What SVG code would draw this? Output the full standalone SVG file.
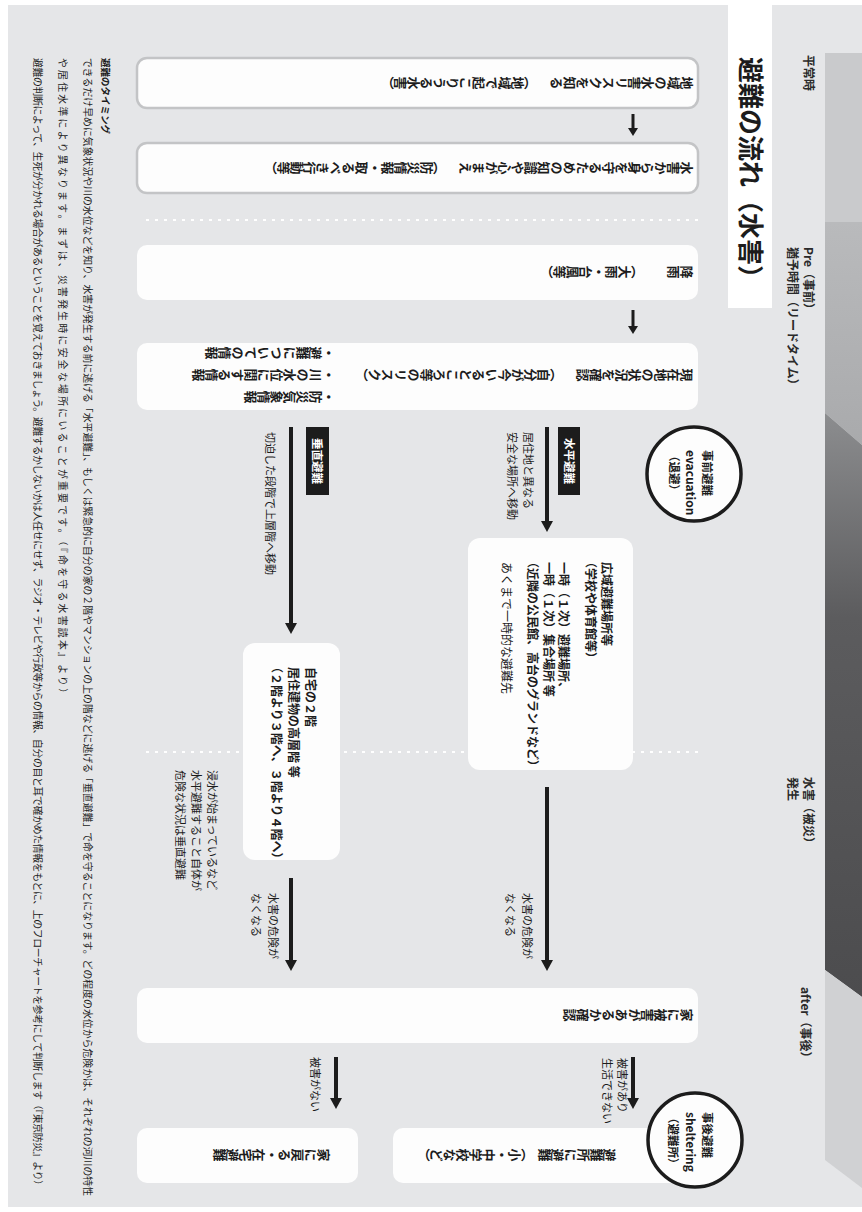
<svg xmlns="http://www.w3.org/2000/svg" width="862" height="1212" viewBox="0 0 862 1212">
<defs>
<style>
text{font-family:"Noto Sans CJK JP","Noto Sans",sans-serif;fill:#1c1c1c}
.v{writing-mode:vertical-rl;font-size:13px;font-weight:700}
.b{font-weight:700}
.box{fill:#fdfdfd}
.box2{fill:#fdfdfd;stroke:#c3c4c6;stroke-width:2.5}
.lbl{font-size:11px}
.bt{font-size:12px}
.ph{font-size:12px;font-weight:700;fill:#2a2a2a}
.fn{font-size:9.8px}
.arr{stroke:#1c1c1c;stroke-width:4;fill:none;marker-end:url(#ah)}
.sarr{stroke:#1c1c1c;stroke-width:3;fill:none;marker-end:url(#ahs)}
.dot{stroke:#ffffff;stroke-width:2;stroke-dasharray:3 6;fill:none}
.circ{fill:#fdfdfd;stroke:#1c1c1c;stroke-width:3.5}
</style>
<marker id="ah" viewBox="0 0 11 12" refX="2" refY="6" markerWidth="11" markerHeight="12" markerUnits="userSpaceOnUse" orient="auto"><path d="M0,0 L11,6 L0,12 Z" fill="#1c1c1c"/></marker>
<marker id="ahs" viewBox="0 0 8 10" refX="1" refY="5" markerWidth="8" markerHeight="10" markerUnits="userSpaceOnUse" orient="auto"><path d="M0,0 L8,5 L0,10 Z" fill="#1c1c1c"/></marker>
<linearGradient id="dark" gradientUnits="userSpaceOnUse" x1="413" y1="0" x2="997" y2="0"><stop offset="0" stop-color="#8c8d8f"/><stop offset="0.35" stop-color="#5c5c5e"/><stop offset="1" stop-color="#4c4c4e"/></linearGradient>
<linearGradient id="pre" gradientUnits="userSpaceOnUse" x1="222" y1="0" x2="445" y2="0"><stop offset="0" stop-color="#b9babc"/><stop offset="1" stop-color="#a9aaac"/></linearGradient>
</defs>
<rect x="0" y="0" width="862" height="1212" fill="#ffffff"/>
<rect x="8" y="5" width="854" height="1202" fill="#e5e6e8"/>
<g transform="translate(862 0) rotate(90)">
  <g id="timeline">
    <polygon points="53,0 222,0 222,37 53,37" fill="#c9cacc"/>
    <polygon points="222,0 445,0 413,37 222,37" fill="url(#pre)"/>
    <polygon points="445,0 997,0 970,37 413,37" fill="url(#dark)"/>
    <polygon points="997,0 1188,0 1160,37 970,37" fill="#d0d1d3"/>
  </g>
  <g id="title">
    <rect x="0" y="90" width="308" height="44" fill="#ffffff"/>
    <text x="57" y="121" font-size="26" class="b">避難の流れ（水害）</text>
  </g>
  <g id="phases">
    <text class="ph" x="55" y="58.5">平常時</text>
    <text class="ph" x="247" y="58.5">Pre（事前）</text>
    <text class="ph" x="247" y="74.5">猶予時間（リードタイム）</text>
    <text class="ph" x="777" y="58.5">水害（被災）</text>
    <text class="ph" x="777" y="74.5">発生</text>
    <text class="ph" x="987" y="61.5">after（事後）</text>
  </g>
  <g id="separators">
    <line class="dot" x1="220" y1="164" x2="220" y2="722"/>
    <line class="dot" x1="752" y1="164" x2="752" y2="722"/>
  </g>
  <g id="connectors">
    <line class="sarr" x1="114" y1="229" x2="129" y2="229"/>
    <line class="sarr" x1="310" y1="229" x2="327" y2="229"/>
    <line class="arr" x1="427" y1="315" x2="523" y2="315"/>
    <line class="arr" x1="427" y1="571" x2="625" y2="571"/>
    <line class="arr" x1="787" y1="315" x2="962" y2="315"/>
    <line class="arr" x1="878" y1="571" x2="962" y2="571"/>
    <line class="arr" x1="1057" y1="229" x2="1100" y2="229"/>
    <line class="arr" x1="1057" y1="526" x2="1100" y2="526"/>
    <rect x="427" y="282" width="68" height="22" fill="#1c1c1c"/>
    <text x="461" y="297.5" font-size="11.5" class="b" text-anchor="middle" style="fill:#fff">水平避難</text>
    <rect x="427" y="533" width="68" height="23" fill="#1c1c1c"/>
    <text x="461" y="549" font-size="11.5" class="b" text-anchor="middle" style="fill:#fff">垂直避難</text>
    <text class="lbl" x="432" y="338">居住地と異なる</text>
    <text class="lbl" x="432" y="354">安全な場所へ移動</text>
    <text class="lbl" x="432" y="596">切迫した段階で上層階へ移動</text>
    <text class="lbl" x="893" y="339">水害の危険が</text>
    <text class="lbl" x="893" y="356">なくなる</text>
    <text class="lbl" x="893" y="593">水害の危険が</text>
    <text class="lbl" x="893" y="610">なくなる</text>
    <text class="lbl" x="770" y="654">浸水が始まっているなど</text>
    <text class="lbl" x="770" y="670">水平避難すること自体が</text>
    <text class="lbl" x="770" y="686">危険な状況は垂直避難</text>
    <text class="lbl" x="1058" y="244">被害があり</text>
    <text class="lbl" x="1058" y="259">生活できない</text>
    <text class="lbl" x="1057" y="551">被害がない</text>
  </g>
  <g id="node-risk">
    <rect class="box2" x="58" y="164" width="50" height="561" rx="10"/>
    <text class="v" x="83" y="169">地域の水害リスクを知る</text>
    <text class="v" x="83" y="325">（地域で起こりうる水害）</text>
  </g>
  <g id="node-knowledge">
    <rect class="box2" x="143" y="164" width="50" height="561" rx="10"/>
    <text class="v" x="168" y="169">水害から身を守るための知識や心がまえ</text>
    <text class="v" x="168" y="416">（防災情報・取るべき行動等）</text>
  </g>
  <g id="node-rain">
    <rect class="box" x="245" y="164" width="55" height="561" rx="10"/>
    <text class="v" x="272" y="169">降雨</text>
    <text class="v" x="272" y="218">（大雨・台風等）</text>
  </g>
  <g id="node-check">
    <rect class="box" x="343" y="164" width="67" height="561" rx="10"/>
    <text class="v" x="375" y="169">現在地の状況を確認</text>
    <text class="v" x="375" y="299">（自分が今いるところ等のリスク）</text>
    <text class="v" x="397" y="527">・防災気象情報</text>
    <text class="v" x="375" y="527">・川の水位に関する情報</text>
    <text class="v" x="353" y="527">・避難についての情報</text>
  </g>
  <g id="node-evacuation">
    <circle class="circ" cx="474" cy="168" r="47"/>
    <text x="450" y="159.5" font-size="11.5" class="b">事前避難</text>
    <text x="450" y="176.5" font-size="12" class="b">evacuation</text>
    <text x="450" y="192.5" font-size="11.5" class="b">（退避）</text>
  </g>
  <g id="node-wide-area">
    <rect class="box" x="538" y="229" width="232" height="165" rx="12"/>
    <text class="bt b" x="562" y="260.5">広域避難場所等</text>
    <text class="bt b" x="556" y="276.5">（学校や体育館等）</text>
    <text class="bt b" x="562" y="303.5">一時（１次）避難場所、</text>
    <text class="bt b" x="562" y="318.5">一時（１次）集合場所 等</text>
    <text class="bt b" x="556" y="334.5">（近隣の公民館、高台のグランドなど）</text>
    <text class="bt" x="562" y="360.5">あくまで一時的な避難先</text>
  </g>
  <g id="node-upper-floor">
    <rect class="box" x="643" y="522" width="217" height="97" rx="12"/>
    <text class="bt b" x="667" y="556.5">自宅の２階</text>
    <text class="bt b" x="667" y="573.5">居住建物の高層階 等</text>
    <text class="bt b" x="661" y="590.5">（２階より３階へ、３階より４階へ）</text>
  </g>
  <g id="node-damage-check">
    <rect class="box" x="988" y="164" width="55" height="561" rx="10"/>
    <text class="v" x="1015" y="169">家に被害があるか確認</text>
  </g>
  <g id="node-shelter">
    <rect class="box" x="1128" y="164" width="55" height="305" rx="10"/>
    <text class="v" x="1155" y="246">避難所に避難</text>
    <text class="v" x="1155" y="328">（小・中学校など）</text>
  </g>
  <g id="node-home">
    <rect class="box" x="1128" y="504" width="55" height="221" rx="10"/>
    <text class="v" x="1155" y="532">家に戻る・在宅避難</text>
  </g>
  <g id="node-sheltering">
    <circle class="circ" cx="1140" cy="167" r="47"/>
    <text x="1112" y="159.5" font-size="11.5" class="b">事後避難</text>
    <text x="1112" y="176.5" font-size="12" class="b">sheltering</text>
    <text x="1112" y="193" font-size="11.5" class="b">（避難所）</text>
  </g>
  <g id="footnote">
    <text x="58" y="760" font-size="9.5" class="b">避難のタイミング</text>
    <text class="fn" x="58" y="778.5" textLength="1138" lengthAdjust="spacing">できるだけ早めに気象状況や川の水位などを知り、水害が発生する前に逃げる「水平避難」、もしくは緊急的に自分の家の２階やマンションの上の階などに逃げる「垂直避難」で命を守ることになります。どの程度の水位から危険かは、それぞれの河川の特性</text>
    <text class="fn" x="58" y="803.5" textLength="640" lengthAdjust="spacing">や居住水準により異なります。まずは、災害発生時に安全な場所にいることが重要です。（『命を守る水害読本』より）</text>
    <text class="fn" x="58" y="828.5" textLength="1132" lengthAdjust="spacing">避難の判断によって、生死が分かれる場合があるということを覚えておきましょう。避難するかしないかは人任せにせず、ラジオ・テレビや行政等からの情報、自分の目と耳で確かめた情報をもとに、上のフローチャートを参考にして判断します（『東京防災』より）</text>
  </g>
</g>
</svg>
